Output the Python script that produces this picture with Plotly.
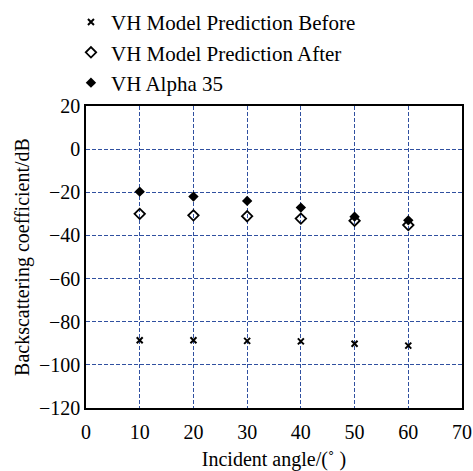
import plotly.graph_objects as go

# Incident angles (degrees)
angles = [10, 20, 30, 40, 50, 60]

# Backscattering coefficients (dB)
vh_before = [-88.6, -88.6, -88.9, -89.1, -90.2, -91.1]
vh_after = [-30.0, -30.7, -31.1, -32.2, -33.2, -35.2]
vh_alpha35 = [-19.7, -22.0, -24.0, -27.1, -31.3, -33.0]

x_ticks = [0, 10, 20, 30, 40, 50, 60, 70]
y_ticks = [20, 0, -20, -40, -60, -80, -100, -120]

FONT = "Liberation Serif, Times New Roman, serif"
GRID = "#3050a0"

fig = go.Figure()

fig.add_trace(go.Scatter(
    x=angles, y=vh_before, mode="markers", name="VH Model Prediction Before",
    legendgroup="a",
    marker=dict(symbol="x-thin", size=6, color="black", line=dict(color="black", width=2)),
))
fig.add_trace(go.Scatter(
    x=angles, y=vh_after, mode="markers", name="VH Model Prediction After",
    legendgroup="b",
    marker=dict(symbol="diamond-open", size=8, color="black", line=dict(color="black", width=1.8)),
))
fig.add_trace(go.Scatter(
    x=angles, y=vh_alpha35, mode="markers", name="VH Alpha 35",
    legendgroup="c",
    marker=dict(symbol="diamond", size=8, color="black"),
))

axis_common = dict(
    showline=True, linecolor="black", linewidth=1.5, mirror=True,
    showgrid=True, gridcolor=GRID, griddash="4px,2px", gridwidth=1.2,
    zeroline=False, ticks="", tickfont=dict(family=FONT, size=20, color="black"),
)

fig.update_xaxes(
    range=[0, 70], tickvals=x_ticks, ticktext=[str(v) for v in x_ticks],
    ticklabelstandoff=5,
    title=dict(text="Incident angle/(˚ )", font=dict(family=FONT, size=20, color="black"), standoff=10),
    **axis_common,
)
fig.update_yaxes(
    range=[-120, 20], tickvals=y_ticks,
    title=dict(text="Backscattering coefficient/dB", font=dict(family=FONT, size=20, color="black"), standoff=4),
    **axis_common,
)

fig.update_layout(
    width=473, height=471,
    margin=dict(l=86, r=11, t=106, b=63, autoexpand=False),
    paper_bgcolor="white", plot_bgcolor="white",
    font=dict(family=FONT, color="black"),
    showlegend=True,
    legend=dict(
        x=-0.04, y=0.996, xanchor="left", yanchor="top", yref="container",
        font=dict(family=FONT, size=21, color="black"),
        tracegroupgap=0, itemwidth=30, bgcolor="rgba(0,0,0,0)",
    ),
)

fig.write_html("out.html")
